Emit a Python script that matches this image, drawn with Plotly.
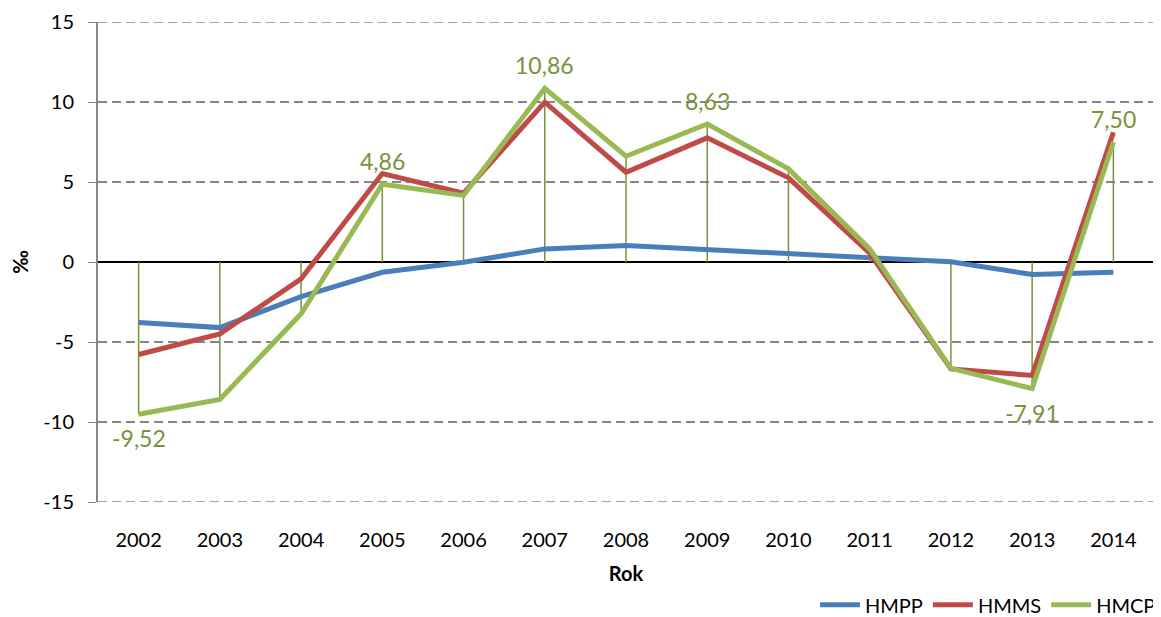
import plotly.graph_objects as go

years = ["2002", "2003", "2004", "2005", "2006", "2007", "2008", "2009", "2010", "2011", "2012", "2013", "2014"]
hmpp = [-3.78, -4.10, -2.16, -0.64, -0.02, 0.82, 1.03, 0.78, 0.53, 0.26, 0.01, -0.78, -0.64]
hmms = [-5.78, -4.49, -1.05, 5.53, 4.30, 9.99, 5.61, 7.76, 5.26, 0.55, -6.68, -7.09, 8.11]
hmcp = [-9.52, -8.59, -3.24, 4.86, 4.16, 10.86, 6.61, 8.63, 5.82, 0.82, -6.65, -7.91, 7.50]
label_years = ["2002", "2005", "2007", "2009", "2013", "2014"]
y_ticks = [-15, -10, -5, 0, 5, 10, 15]
y_min, y_max = -15, 15

FONT = "Lato, Open Sans, sans-serif"
BLUE = "#4A7EBB"
RED = "#BE4B48"
GREEN = "#98B954"
DARKGREEN = "#77933C"
GRID = "#868686"
DASH = "9px,5px"

fig = go.Figure()

# drop lines from zero to HMCP values
dx, dy = [], []
for yr, v in zip(years, hmcp):
    dx += [yr, yr, None]
    dy += [0, v, None]
fig.add_trace(go.Scatter(x=dx, y=dy, mode="lines", line=dict(color=DARKGREEN, width=1.5),
                         showlegend=False, hoverinfo="skip"))

fig.add_trace(go.Scatter(x=years, y=hmpp, mode="lines", name="HMPP", line=dict(color=BLUE, width=5)))
fig.add_trace(go.Scatter(x=years, y=hmms, mode="lines", name="HMMS", line=dict(color=RED, width=5)))
fig.add_trace(go.Scatter(x=years, y=hmcp, mode="lines", name="HMCP", line=dict(color=GREEN, width=5)))

for i, (yr, v) in enumerate(zip(years, hmcp)):
    if yr in label_years:
        fig.add_annotation(x=i, y=v, xref="x", yref="y",
                           text=f"{v:.2f}".replace(".", ","), showarrow=False,
                           yshift=(-24 if v < 0 else 23),
                           font=dict(family=FONT, size=23, color=DARKGREEN))

# dashed gridlines at the axis ends (plotly drops gridlines lying on the plot edge)
for yv in (y_min, y_max):
    fig.add_shape(type="line", xref="paper", yref="y", x0=0, x1=1, y0=yv, y1=yv,
                  line=dict(color=GRID, width=1.5, dash=DASH), layer="below")

# figure is sized to sit inside the page's default 8px body margin
fig.update_layout(
    width=1153, height=609,
    margin=dict(l=90, r=7, t=14, b=115, autoexpand=False),
    paper_bgcolor="white", plot_bgcolor="white",
    font=dict(family=FONT, size=20, color="#000000"),
    legend=dict(orientation="h", xref="container", yref="container",
                x=1.0, xanchor="right", y=0.02, yanchor="middle",
                font=dict(family=FONT, size=20), itemwidth=40, traceorder="normal"),
    showlegend=True,
)
fig.update_xaxes(type="category", categoryorder="array", categoryarray=years,
                 range=[-0.5, 12.5], showgrid=False, showline=False, zeroline=False,
                 ticks="outside", ticklen=20, tickcolor="rgba(0,0,0,0)",
                 tickfont=dict(family=FONT, size=20), automargin=False,
                 title=dict(text="<b>Rok</b>", font=dict(family=FONT, size=20), standoff=20))
fig.update_yaxes(range=[y_min, y_max], tickvals=y_ticks, ticktext=[str(t) for t in y_ticks],
                 showgrid=True, gridcolor=GRID, griddash=DASH, gridwidth=1.5,
                 zeroline=True, zerolinecolor="#000000", zerolinewidth=1.5,
                 showline=True, linecolor=GRID, linewidth=2,
                 ticks="outside", ticklen=8, tickcolor=GRID, ticklabelstandoff=10,
                 tickfont=dict(family=FONT, size=20), automargin=False,
                 title=dict(text="<b>‰</b>", font=dict(family=FONT, size=20), standoff=34))

fig.write_html("out.html")
